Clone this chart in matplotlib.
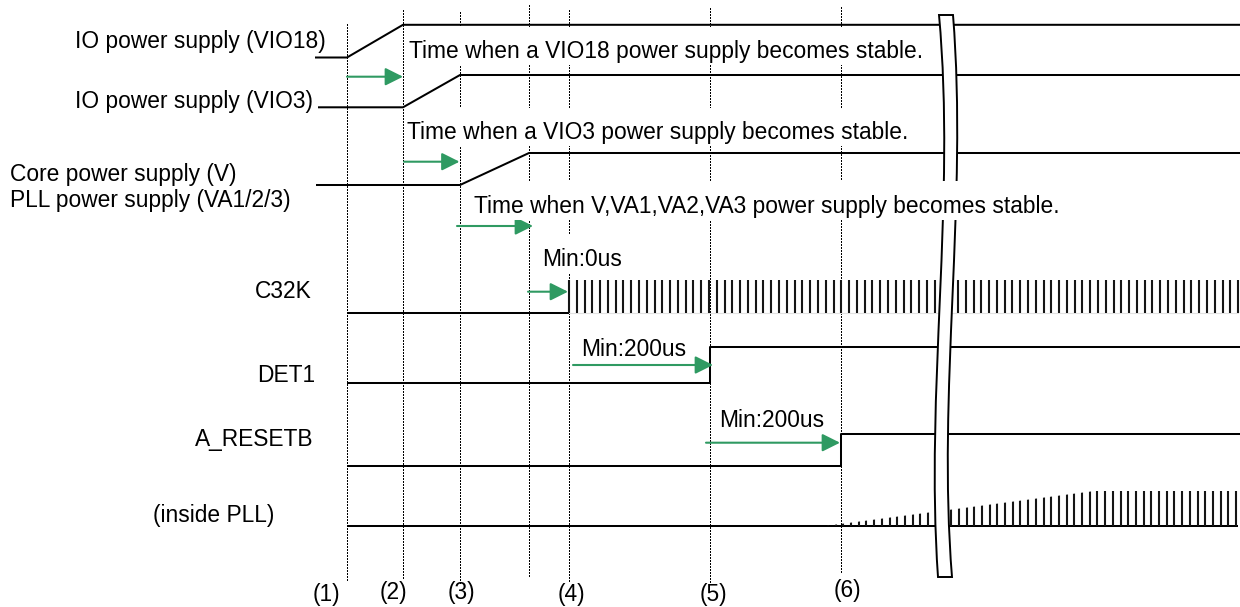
import numpy as np
import matplotlib
matplotlib.use("Agg")
import matplotlib.pyplot as plt
from matplotlib.patches import FancyArrowPatch, Rectangle, PathPatch, Polygon
from matplotlib.path import Path

plt.rcParams['font.family'] = ['Liberation Sans', 'DejaVu Sans']

# ---------------- data ----------------
# event marker positions (dotted guide lines)
event_x = [347, 403, 460, 529, 569, 710, 841]
event_top = [24, 10, 12, 5, 10, 8, 7]
event_bottom = [581, 578, 585, 577, 583, 583, 572]

# event number labels
num_labels = ['(1)', '(2)', '(3)', '(4)', '(5)', '(6)']
num_x = [326, 393, 461.5, 571, 713.5, 847.5]
num_y = [601, 599, 599, 601, 601, 597]

# signal waveforms (time, level)
vio18_t = [315, 347, 403, 1240]
vio18_v = [57.5, 57.5, 24.8, 24.8]
vio3_t = [318, 403, 460, 1240]
vio3_v = [107.3, 107.3, 75, 75]
core_t = [316, 460, 529, 1240]
core_v = [185, 185, 153, 153]
c32k_t = [347, 569]
c32k_v = [312.5, 312.5]
det1_t = [347, 710, 710, 1240]
det1_v = [383, 383, 347.3, 347.3]
areset_t = [347, 841, 841, 1240]
areset_v = [466, 466, 434, 434]
pll_t = [347, 1238]
pll_v = [526, 526]

# clocks
c32k_clk_start, c32k_clk_end, c32k_clk_period = 569, 1238, 7.78
c32k_clk_low, c32k_clk_high = 312.5, 280
pll_clk_start, pll_clk_end, pll_clk_period = 820.2, 1238, 7.7
pll_env_t = [825, 1097, 1240]
pll_env_top = [526, 490.7, 490.7]
pll_base = 526

# timing arrows (start, end, level)
arrow_x0 = [347, 404, 457, 528, 573, 706]
arrow_x1 = [403, 459.5, 533, 568, 713, 840]
arrow_y = [76.7, 161.7, 226, 291.7, 365, 442.7]

# signal names
sig_labels = ['IO power supply (VIO18)', 'IO power supply (VIO3)',
              'Core power supply (V)', 'PLL power supply (VA1/2/3)']
sig_label_x = [75, 75, 10.5, 10]
sig_label_y = [48.3, 108.3, 181, 206.7]
right_labels = ['C32K', 'DET1', 'A_RESETB', '(inside PLL)']
right_label_x = [312, 315, 313, 274.5]
right_label_y = [298.3, 381.7, 446, 521.7]

# annotation texts
notes = ['Time when a VIO18 power supply becomes stable.',
         'Time when a VIO3 power supply becomes stable.',
         'Time when V,VA1,VA2,VA3 power supply becomes stable.',
         'Min:0us', 'Min:200us', 'Min:200us']
note_x = [409, 407, 474.5, 542.3, 581, 719]
note_y = [58.3, 139.3, 212.7, 266, 355.7, 426.7]

# ---------------- figure ----------------
W, H = 1240, 607
fig = plt.figure(figsize=(W / 100, H / 100), dpi=100)
ax = fig.add_axes([0, 0, 1, 1])
ax.set_xlim(0, W)
ax.set_ylim(H, 0)
ax.axis('off')

FS = 16.4
LW = 1.45
GREEN = '#2f9a62'

# dotted guides
for x, t, b in zip(event_x, event_top, event_bottom):
    ax.plot([x, x], [t, b], color='black', lw=0.75, ls=(0, (1.4, 1.4)),
            antialiased=False, zorder=1)

# waveforms
for t, v in [(vio18_t, vio18_v), (vio3_t, vio3_v), (core_t, core_v),
             (c32k_t, c32k_v), (det1_t, det1_v), (areset_t, areset_v),
             (pll_t, pll_v)]:
    ax.plot(t, v, color='black', lw=LW, solid_capstyle='butt', zorder=2)

# C32K clock
ck = np.arange(c32k_clk_start, c32k_clk_end + 0.1, c32k_clk_period)
ax.vlines(ck, c32k_clk_high, c32k_clk_low, color='#151515', lw=1.5, zorder=2)
ax.plot([c32k_clk_start, c32k_clk_end], [c32k_clk_low + 0.5] * 2,
        color='#e2e2e2', lw=0.8, zorder=1.5)

# PLL ramping clock, clipped to its envelope
pk = np.arange(pll_clk_start, pll_clk_end + 0.1, pll_clk_period)
env = Polygon([(pll_env_t[0], pll_base)] + list(zip(pll_env_t, pll_env_top)) +
              [(pll_env_t[-1], pll_base)], closed=True, transform=ax.transData,
              facecolor='none', edgecolor='none')
ax.add_patch(env)
lc = ax.vlines(pk, min(pll_env_top), pll_base, color='#151515', lw=1.5, zorder=2)
lc.set_clip_path(env)

# break mark
bl = [(939, 15), (956, 202), (925, 390), (938, 577)]
br = [(953, 15), (968, 202), (937, 390), (952, 577)]
verts = [bl[0], bl[1], bl[2], bl[3], br[3], br[2], br[1], br[0], bl[0]]
codes = [Path.MOVETO, Path.CURVE4, Path.CURVE4, Path.CURVE4, Path.LINETO,
         Path.CURVE4, Path.CURVE4, Path.CURVE4, Path.CLOSEPOLY]
ax.add_patch(PathPatch(Path(verts, codes), facecolor='white', edgecolor='black',
                       lw=1.4, zorder=3))

# arrows
for x0, x1, y in zip(arrow_x0, arrow_x1, arrow_y):
    ax.add_patch(FancyArrowPatch((x0, y), (x1, y),
                                 arrowstyle='-|>,head_length=0.4,head_width=0.2',
                                 mutation_scale=27, color=GREEN, lw=1.5,
                                 shrinkA=0, shrinkB=0, zorder=4))

# texts
for s, x, y in zip(sig_labels, sig_label_x, sig_label_y):
    ax.text(x, y, s, fontsize=FS, ha='left', va='baseline', zorder=6)
for s, x, y in zip(right_labels, right_label_x, right_label_y):
    ax.text(x, y, s, fontsize=FS, ha='right', va='baseline', zorder=6)
for s, x, y in zip(num_labels, num_x, num_y):
    ax.text(x, y, s, fontsize=FS, ha='center', va='baseline', zorder=6)

note_objs = []
for s, x, y in zip(notes, note_x, note_y):
    note_objs.append(ax.text(x, y, s, fontsize=FS, ha='left', va='baseline', zorder=6))

# white text boxes for annotations (hide guides behind them)
fig.canvas.draw()
r = fig.canvas.get_renderer()
inv = ax.transData.inverted()
for t, y in zip(note_objs, note_y):
    bb = t.get_window_extent(r)
    xa = inv.transform((bb.x0, 0))[0]
    xb = inv.transform((bb.x1, 0))[0]
    ax.add_patch(Rectangle((xa - 3, y - 31.5), xb - xa + 6, 38.5, facecolor='white',
                           edgecolor='none', zorder=5))

fig.savefig('out.png', dpi=100, facecolor='white')
